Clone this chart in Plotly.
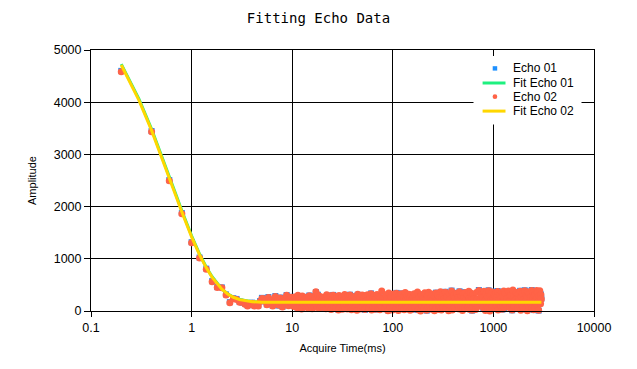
import plotly.graph_objects as go

# ---------------- data ----------------
# Echo 01 acquisition times (ms)
ECHO01_TIME_MS = [
    0.2, 0.4, 0.6, 0.8, 1.0, 1.2, 1.4, 1.6, 1.8, 2.0, 2.2, 2.4, 2.6, 2.8, 3.0, 3.2, 3.4, 3.6, 3.8, 4.0, 4.2, 4.4, 4.6, 4.8, 5.0,
    5.2, 5.4, 5.6, 5.8, 6.0, 6.2, 6.4, 6.6, 6.8, 7.0, 7.2, 7.4, 7.6, 7.8, 8.0, 8.2, 8.4, 8.6, 8.8, 9.0, 9.2, 9.4, 9.6, 9.8, 10.0,
    10.4, 10.8, 11.2, 11.6, 12.0, 12.4, 12.8, 13.2, 13.6, 14.0, 14.4, 14.8, 15.2, 15.6, 16.0, 16.4, 16.8, 17.2, 17.6, 18.0, 18.4, 18.8, 19.2, 19.6, 20.0,
    20.8, 21.6, 22.4, 23.2, 24.0, 24.8, 25.6, 26.4, 27.2, 28.0, 28.8, 29.6, 30.4, 31.2, 32.0, 32.8, 33.6, 34.4, 35.2, 36.0, 36.8, 37.6, 38.4, 39.2, 40.0,
    41.6, 43.2, 44.8, 46.4, 48.0, 49.6, 51.2, 52.8, 54.4, 56.0, 57.6, 59.2, 60.8, 62.4, 64.0, 65.6, 67.2, 68.8, 70.4, 72.0, 73.6, 75.2, 76.8, 78.4, 80.0,
    83.2, 86.4, 89.6, 92.8, 96.0, 99.2, 102.4, 105.6, 108.8, 112.0, 115.2, 118.4, 121.6, 124.8, 128.0, 131.2, 134.4, 137.6, 140.8, 144.0, 147.2, 150.4, 153.6, 156.8, 160.0,
    166.4, 172.8, 179.2, 185.6, 192.0, 198.4, 204.8, 211.2, 217.6, 224.0, 230.4, 236.8, 243.2, 249.6, 256.0, 262.4, 268.8, 275.2, 281.6, 288.0, 294.4, 300.8, 307.2, 313.6, 320.0,
    332.8, 345.6, 358.4, 371.2, 384.0, 396.8, 409.6, 422.4, 435.2, 448.0, 460.8, 473.6, 486.4, 499.2, 512.0, 524.8, 537.6, 550.4, 563.2, 576.0, 588.8, 601.6, 614.4, 627.2, 640.0,
    665.6, 691.2, 716.8, 742.4, 768.0, 793.6, 819.2, 844.8, 870.4, 896.0, 921.6, 947.2, 972.8, 998.4, 1024.0, 1049.6, 1075.2, 1100.8, 1126.4, 1152.0, 1177.6, 1203.2, 1228.8, 1254.4, 1280.0,
    1331.2, 1382.4, 1433.6, 1484.8, 1536.0, 1587.2, 1638.4, 1689.6, 1740.8, 1792.0, 1843.2, 1894.4, 1945.6, 1996.8, 2048.0, 2099.2, 2150.4, 2201.6, 2252.8, 2304.0, 2355.2, 2406.4, 2457.6, 2508.8, 2560.0,
    2611.2, 2662.4, 2713.6, 2764.8, 2816.0, 2867.2, 2918.4, 2969.6, 3000.0,
]

ECHO01_AMP = [
    4600, 3448, 2508, 1876, 1318, 1024, 812, 572, 458, 452, 318, 170, 245, 231, 178, 160, 140, 108, 140, 160, 108, 122, 105, 192, 252,
    243, 182, 128, 268, 143, 212, 103, 168, 288, 133, 222, 103, 258, 158, 83, 237, 178, 138, 307, 148, 108, 213, 177, 272, 118,
    95, 138, 70, 205, 242, 50, 145, 88, 183, 272, 192, 298, 238, 178, 283, 208, 262, 362, 248, 312, 112, 58, 163, 268, 122,
    118, 52, 142, 88, 297, 207, 308, 243, 68, 132, 28, 108, 83, 277, 152, 108, 48, 263, 47, 162, 238, 312, 203, 272, 183,
    283, 218, 312, 203, 48, 298, 247, 22, 193, 303, 222, 263, 337, 193, 72, 302, 28, 168, 78, 52, 133, 262, 183, 68, 158,
    48, 113, 12, 203, 273, 28, 108, 178, 347, 208, 307, 238, 337, 198, 282, 183, 117, 38, 162, 313, 257, 173, 77, 28, 167,
    68, 118, 18, 168, 317, 233, 52, 143, 8, 88, 163, 262, 188, 78, 157, 273, 352, 203, 307, 133, 97, 183, 252, 322, 218,
    368, 268, -3, 238, 392, 173, 78, 153, 348, 253, 377, 83, 158, 337, 258, 362, 213, 318, 68, 247, 193, 112, 8, 327, 228,
    38, 218, 402, -22, 138, 53, 203, 328, 278, 397, -8, 223, 372, 233, 327, 48, 272, 383, 198, 307, 223, 367, 28, 122, 58,
    128, -12, 188, 307, 13, 267, 198, 362, 43, 237, 387, 268, 347, 208, 397, 33, 257, 372, 83, 207, 277, 402, 223, 18, 317,
    338, -17, 257, 372, 8, 222, -12, 317, 238,
]

# Echo 02 acquisition times (ms)
ECHO02_TIME_MS = [
    0.2, 0.4, 0.6, 0.8, 1.0, 1.2, 1.4, 1.6, 1.8, 2.0, 2.2, 2.4, 2.6, 2.8, 3.0, 3.2, 3.4, 3.6, 3.8, 4.0, 4.2, 4.4, 4.6, 4.8, 5.0,
    5.2, 5.4, 5.6, 5.8, 6.0, 6.2, 6.4, 6.6, 6.8, 7.0, 7.2, 7.4, 7.6, 7.8, 8.0, 8.2, 8.4, 8.6, 8.8, 9.0, 9.2, 9.4, 9.6, 9.8, 10.0,
    10.2, 10.4, 10.6, 10.8, 11.0, 11.2, 11.4, 11.6, 11.8, 12.0, 12.2, 12.4, 12.6, 12.8, 13.0, 13.2, 13.4, 13.6, 13.8, 14.0,
    14.2, 14.4, 14.6, 14.8, 15.0, 15.2, 15.4, 15.6, 15.8, 16.0, 16.2, 16.4, 16.6, 16.8, 17.0, 17.2, 17.4, 17.6, 17.8, 18.0,
    18.2, 18.4, 18.6, 18.8, 19.0, 19.2, 19.4, 19.6, 19.8, 20.0,
    20.4, 20.8, 21.2, 21.6, 22.0, 22.4, 22.8, 23.2, 23.6, 24.0, 24.4, 24.8, 25.2, 25.6, 26.0, 26.4, 26.8, 27.2, 27.6, 28.0,
    28.4, 28.8, 29.2, 29.6, 30.0, 30.4, 30.8, 31.2, 31.6, 32.0, 32.4, 32.8, 33.2, 33.6, 34.0, 34.4, 34.8, 35.2, 35.6, 36.0,
    36.4, 36.8, 37.2, 37.6, 38.0, 38.4, 38.8, 39.2, 39.6, 40.0,
    40.8, 41.6, 42.4, 43.2, 44.0, 44.8, 45.6, 46.4, 47.2, 48.0, 48.8, 49.6, 50.4, 51.2, 52.0, 52.8, 53.6, 54.4, 55.2, 56.0,
    56.8, 57.6, 58.4, 59.2, 60.0, 60.8, 61.6, 62.4, 63.2, 64.0, 64.8, 65.6, 66.4, 67.2, 68.0, 68.8, 69.6, 70.4, 71.2, 72.0,
    72.8, 73.6, 74.4, 75.2, 76.0, 76.8, 77.6, 78.4, 79.2, 80.0,
    81.6, 83.2, 84.8, 86.4, 88.0, 89.6, 91.2, 92.8, 94.4, 96.0, 97.6, 99.2, 100.8, 102.4, 104.0, 105.6, 107.2, 108.8, 110.4, 112.0,
    113.6, 115.2, 116.8, 118.4, 120.0, 121.6, 123.2, 124.8, 126.4, 128.0, 129.6, 131.2, 132.8, 134.4, 136.0, 137.6, 139.2, 140.8, 142.4, 144.0,
    145.6, 147.2, 148.8, 150.4, 152.0, 153.6, 155.2, 156.8, 158.4, 160.0,
    163.2, 166.4, 169.6, 172.8, 176.0, 179.2, 182.4, 185.6, 188.8, 192.0, 195.2, 198.4, 201.6, 204.8, 208.0, 211.2, 214.4, 217.6, 220.8, 224.0,
    227.2, 230.4, 233.6, 236.8, 240.0, 243.2, 246.4, 249.6, 252.8, 256.0, 259.2, 262.4, 265.6, 268.8, 272.0, 275.2, 278.4, 281.6, 284.8, 288.0,
    291.2, 294.4, 297.6, 300.8, 304.0, 307.2, 310.4, 313.6, 316.8, 320.0,
    326.4, 332.8, 339.2, 345.6, 352.0, 358.4, 364.8, 371.2, 377.6, 384.0, 390.4, 396.8, 403.2, 409.6, 416.0, 422.4, 428.8, 435.2, 441.6, 448.0,
    454.4, 460.8, 467.2, 473.6, 480.0, 486.4, 492.8, 499.2, 505.6, 512.0, 518.4, 524.8, 531.2, 537.6, 544.0, 550.4, 556.8, 563.2, 569.6, 576.0,
    582.4, 588.8, 595.2, 601.6, 608.0, 614.4, 620.8, 627.2, 633.6, 640.0,
    652.8, 665.6, 678.4, 691.2, 704.0, 716.8, 729.6, 742.4, 755.2, 768.0, 780.8, 793.6, 806.4, 819.2, 832.0, 844.8, 857.6, 870.4, 883.2, 896.0,
    908.8, 921.6, 934.4, 947.2, 960.0, 972.8, 985.6, 998.4, 1011.2, 1024.0, 1036.8, 1049.6, 1062.4, 1075.2, 1088.0, 1100.8, 1113.6, 1126.4, 1139.2, 1152.0,
    1164.8, 1177.6, 1190.4, 1203.2, 1216.0, 1228.8, 1241.6, 1254.4, 1267.2, 1280.0,
    1305.6, 1331.2, 1356.8, 1382.4, 1408.0, 1433.6, 1459.2, 1484.8, 1510.4, 1536.0, 1561.6, 1587.2, 1612.8, 1638.4, 1664.0, 1689.6, 1715.2, 1740.8, 1766.4, 1792.0,
    1817.6, 1843.2, 1868.8, 1894.4, 1920.0, 1945.6, 1971.2, 1996.8, 2022.4, 2048.0, 2073.6, 2099.2, 2124.8, 2150.4, 2176.0, 2201.6, 2227.2, 2252.8, 2278.4, 2304.0,
    2329.6, 2355.2, 2380.8, 2406.4, 2432.0, 2457.6, 2483.2, 2508.8, 2534.4, 2560.0,
    2585.6, 2611.2, 2636.8, 2662.4, 2688.0, 2713.6, 2739.2, 2764.8, 2790.4, 2816.0, 2841.6, 2867.2, 2892.8, 2918.4, 2944.0, 2969.6, 2995.2,
]

ECHO02_AMP = [
    4584, 3435, 2496, 1864, 1309, 1015, 802, 561, 448, 445, 306, 159, 236, 222, 166, 170, 128, 96, 130, 150, 97, 110, 96, 180, 240,
    235, 190, 120, 260, 150, 205, 95, 175, 280, 140, 215, 110, 250, 165, 75, 230, 185, 130, 300, 155, 100, 220, 170, 265, 125,
    180, 85, 270, 145, 220, 60, 300, 195, 115, 250, 160, 40, 285, 135, 210, 95, 245, 175, 70, 265,
    125, 200, 55, 290, 150, 230, 100, 185, 45, 275, 140, 215, 80, 255, 165, 370, 110, 240, 65, 305,
    190, 120, 225, 50, 280, 155, 95, 260, 200, 130,
    265, 110, 200, 45, 310, 150, 235, 80, 180, 290, 30, 215, 130, 300, 95, 250, 170, 60, 280, 140,
    205, 20, 295, 115, 240, 75, 185, 270, 35, 160, 225, 100, 315, 55, 195, 255, 125, 40, 285, 170,
    90, 230, 145, 305, 65, 210, 25, 265, 120, 190,
    155, 275, 70, 225, 15, 320, 120, 195, 260, 40, 175, 305, 95, 240, 135, 30, 290, 185, 80, 310,
    145, 215, 50, 270, 110, 330, 20, 200, 250, 65, 180, 295, 125, 35, 235, 160, 315, 85, 210, 45,
    280, 140, 25, 255, 100, 190, 385, 60, 230, 165,
    170, 40, 310, 120, 235, 5, 345, 195, 75, 280, 150, 20, 325, 100, 260, 185, 50, 340, 140, 215,
    10, 300, 90, 245, 165, 330, 60, 205, 125, 275, 25, 190, 355, 110, 230, 45, 295, 155, 85, 320,
    135, 250, 15, 180, 305, 70, 220, 35, 270, 160,
    330, 60, 205, 125, 365, 25, 270, 160, 0, 310, 95, 240, 185, 45, 350, 135, 220, 15, 290, 80,
    360, 170, 110, 255, 35, 195, 325, 70, 235, 150, 5, 280, 115, 345, 55, 210, 175, 300, 30, 140,
    265, 90, 370, 190, 20, 245, 130, 315, 65, 225,
    195, 360, 55, 275, 140, 5, 325, 230, 100, 385, 20, 180, 300, 70, 245, 160, -10, 340, 120, 260,
    40, 370, 210, 90, 290, 150, 10, 330, 185, 265, 60, 355, 125, 220, -5, 310, 170, 75, 380, 240,
    30, 200, 345, 105, 280, 15, 160, 320, 85, 235,
    150, 30, 355, 225, 85, 395, 175, -15, 310, 130, 250, 60, 380, 195, 10, 335, 105, 270, 45, 390,
    160, 0, 295, 215, 75, 365, 120, 240, -10, 320, 185, 55, 345, 265, 100, 375, 20, 205, 140, 300,
    -5, 230, 90, 360, 170, 35, 285, 115, 385, 65,
    345, 120, 240, -5, 385, 180, 60, 300, 145, 20, 400, 260, 95, 205, -20, 355, 165, 50, 320, 230,
    110, 380, 15, 275, 135, 340, 70, 215, -10, 390, 185, 40, 295, 250, 5, 365, 155, 90, 325, 200,
    -15, 270, 125, 395, 60, 230, 350, 25, 175, 310,
    60, 330, 190, -10, 395, 250, 100, 365, 170, 15, 285, 215, 390, -5, 140, 310, 230,
]

FIT_TIME_MS = [0.2, 0.3, 0.4, 0.5, 0.6, 0.7, 0.8, 0.9, 1.0, 1.2, 1.4, 1.6, 1.8, 2.0, 2.3, 2.6, 3.0, 3.5, 4.0, 5.0,
               6.0, 8.0, 10, 30, 100, 300, 1000, 3000]
FIT01_AMP = [4730, 4060, 3488, 2999, 2583, 2226, 1922, 1662, 1441, 1092, 838, 655, 520, 423, 325, 265, 219, 191, 179, 170,
             169, 168, 168, 168, 168, 168, 168, 168]
FIT02_AMP = [4712, 4036, 3460, 2971, 2554, 2199, 1897, 1640, 1421, 1076, 826, 645, 513, 418, 322, 263, 218, 190, 178, 170,
             169, 168, 168, 168, 168, 168, 168, 168]

SERIES_NAMES = ["Echo 01", "Fit Echo 01", "Echo 02", "Fit Echo 02"]
X_TICK_VALS = [0.1, 1, 10, 100, 1000, 10000]
X_TICK_TEXT = ["0.1", "1", "10", "100", "1000", "10000"]
Y_TICK_VALS = [0, 1000, 2000, 3000, 4000, 5000]

assert len(ECHO01_TIME_MS) == len(ECHO01_AMP), (len(ECHO01_TIME_MS), len(ECHO01_AMP))
assert len(ECHO02_TIME_MS) == len(ECHO02_AMP), (len(ECHO02_TIME_MS), len(ECHO02_AMP))
assert len(FIT_TIME_MS) == len(FIT01_AMP) == len(FIT02_AMP)

# ---------------- figure ----------------
BLUE = "#1e90ff"
RED = "#ff6347"
GREEN = "#1ef07f"
GOLD = "#ffd700"
FONT = "Liberation Sans, Arial, sans-serif"

fig = go.Figure()
fig.add_trace(go.Scatter(x=ECHO01_TIME_MS, y=ECHO01_AMP, mode="markers", name=SERIES_NAMES[0],
                         marker=dict(symbol="square", size=6, color=BLUE, line=dict(width=0)),
                         cliponaxis=False, showlegend=False))
fig.add_trace(go.Scatter(x=FIT_TIME_MS, y=FIT01_AMP, mode="lines", name=SERIES_NAMES[1],
                         line=dict(color=GREEN, width=3), showlegend=False))
fig.add_trace(go.Scatter(x=ECHO02_TIME_MS, y=ECHO02_AMP, mode="markers", name=SERIES_NAMES[2],
                         marker=dict(symbol="circle", size=7, color=RED, line=dict(width=0)),
                         cliponaxis=False, showlegend=False))
fig.add_trace(go.Scatter(x=FIT_TIME_MS, y=FIT02_AMP, mode="lines", name=SERIES_NAMES[3],
                         line=dict(color=GOLD, width=3), showlegend=False))

# The page body adds an 8 px offset; the figure is sized/margined so the
# plot area lands on page pixels x 91..594, y 50..311.
OFF = 8
W, H = 637 - 2 * OFF, 369 - 2 * OFF
PX0, PX1, PY0, PY1 = 91, 594, 50, 311
L, T = PX0 - OFF, PY0 - OFF
R = W - (PX1 - OFF)
B = H - (PY1 - OFF)
PW, PH = PX1 - PX0, PY1 - PY0


def px(xpage):
    return (xpage - PX0) / PW


def py(ypage):
    return (PY1 - ypage) / PH


shapes = [
    dict(type="rect", xref="paper", yref="paper", x0=px(473.5), x1=px(581.5), y0=py(124.5), y1=py(56),
         fillcolor="white", line=dict(width=0), layer="above"),
    dict(type="rect", xref="paper", yref="paper", x0=px(492.7), x1=px(497.2), y0=py(70.6), y1=py(66.2),
         fillcolor=BLUE, line=dict(width=0), layer="above"),
    dict(type="line", xref="paper", yref="paper", x0=px(482.6), x1=px(505.5), y0=py(83), y1=py(83),
         line=dict(color=GREEN, width=3), layer="above"),
    dict(type="circle", xref="paper", yref="paper", x0=px(492.6), x1=px(497.3), y0=py(99), y1=py(94.3),
         fillcolor=RED, line=dict(width=0), layer="above"),
    dict(type="line", xref="paper", yref="paper", x0=px(482.6), x1=px(505.5), y0=py(111.1), y1=py(111.1),
         line=dict(color=GOLD, width=3), layer="above"),
]
annotations = []
for name, ypix in zip(SERIES_NAMES, [68.4, 82.6, 96.8, 111.1]):
    annotations.append(dict(text=name, xref="paper", yref="paper", x=px(511), y=py(ypix),
                            xanchor="left", yanchor="middle", showarrow=False,
                            font=dict(family=FONT, size=12, color="#000")))

fig.update_layout(
    width=W, height=H,
    margin=dict(l=L, r=R, t=T, b=B, autoexpand=False),
    paper_bgcolor="white", plot_bgcolor="white",
    title=dict(text="Fitting Echo Data", x=0.5, xanchor="center", y=1 - (18 - OFF) / H, yanchor="middle",
               yref="container", font=dict(family="DejaVu Sans Mono, monospace", size=14, color="#000")),
    shapes=shapes, annotations=annotations,
    showlegend=False,
)
fig.update_xaxes(
    type="log", range=[-1, 4], tickvals=X_TICK_VALS, ticktext=X_TICK_TEXT,
    showgrid=True, gridcolor="black", gridwidth=1,
    showline=True, linecolor="black", linewidth=1, mirror=True,
    ticks="outside", ticklen=5, tickcolor="black",
    tickfont=dict(family=FONT, size=12.5, color="#000"),
    title=dict(text="Acquire Time(ms)", font=dict(family=FONT, size=11, color="#000"), standoff=10),
    zeroline=False,
)
fig.update_yaxes(
    range=[0, 5000], tickvals=Y_TICK_VALS,
    showgrid=True, gridcolor="black", gridwidth=1,
    showline=True, linecolor="black", linewidth=1, mirror=True,
    ticks="outside", ticklen=6, tickcolor="black",
    tickfont=dict(family=FONT, size=12.5, color="#000"),
    title=dict(text="Amplitude", font=dict(family=FONT, size=11, color="#000"), standoff=14),
    zeroline=False,
)

fig.write_html("out.html")
